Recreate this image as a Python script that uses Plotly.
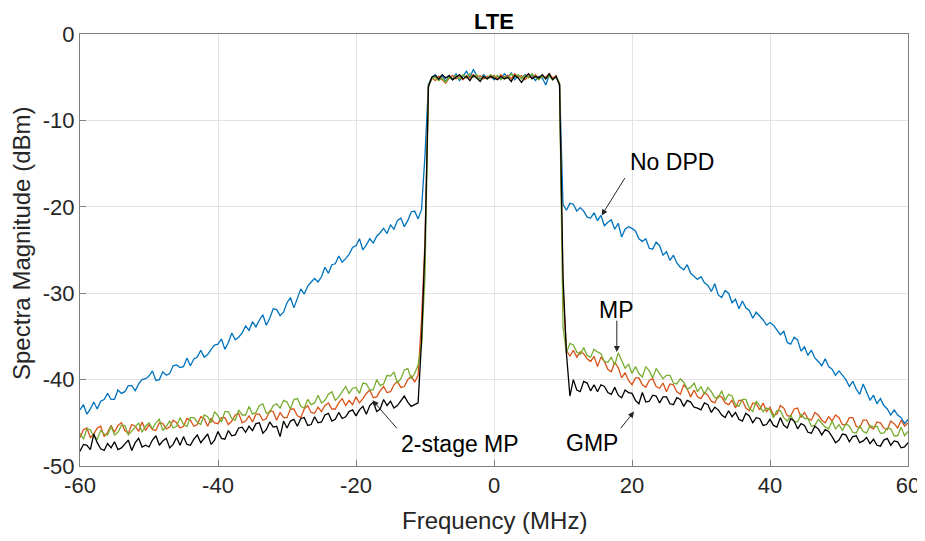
import numpy as np
import plotly.graph_objects as go

# Frequency sample grid (MHz), 0.5 MHz spacing
FREQ_MHZ = np.round(np.arange(-60.0, 60.25, 0.5), 2)

# No DPD (dBm)
NO_DPD = [
    -43.5, -42.9, -44.0, -43.4, -42.6, -43.4, -42.5, -42.3, -41.6, -42.3,
    -42.3, -41.2, -41.6, -41.4, -40.7, -40.7, -41.3, -40.5, -40.0, -39.9,
    -39.6, -39.0, -40.1, -40.0, -39.1, -39.5, -39.3, -38.4, -38.3, -38.6,
    -38.5, -37.5, -38.4, -37.6, -37.4, -36.6, -37.4, -37.1, -36.5, -36.0,
    -35.9, -35.3, -36.5, -35.7, -34.6, -35.4, -35.1, -34.6, -33.8, -34.3,
    -33.3, -33.9, -33.1, -32.5, -33.7, -32.9, -31.8, -31.9, -32.6, -32.2,
    -31.1, -30.5, -31.7, -30.6, -29.5, -30.1, -29.2, -28.7, -28.3, -28.7,
    -28.1, -27.0, -27.7, -26.7, -26.6, -25.7, -26.4, -26.0, -25.5, -24.7,
    -24.5, -23.7, -25.0, -24.4, -23.7, -24.2, -23.4, -23.0, -22.5, -23.1,
    -22.1, -22.6, -21.6, -21.3, -22.3, -21.6, -20.6, -20.5, -21.4, -20.3,
    -14.0, -5.8, -5.0, -4.7, -5.3, -4.8, -5.5, -4.9, -5.2, -4.6,
    -5.4, -4.9, -4.3, -5.0, -4.1, -4.8, -5.2, -4.7, -5.1, -4.8,
    -5.3, -4.9, -5.2, -4.6, -5.0, -4.5, -5.3, -4.8, -5.1, -4.7,
    -5.0, -4.8, -5.4, -4.9, -5.1, -5.9, -4.8, -5.2, -5.0, -5.8,
    -19.7, -20.4, -19.6, -19.7, -20.5, -20.1, -20.5, -21.2, -21.3, -20.7,
    -21.6, -21.0, -22.2, -21.8, -21.5, -22.6, -21.9, -23.5, -22.6, -22.3,
    -22.5, -22.8, -23.7, -24.0, -23.7, -24.8, -24.9, -24.1, -24.5, -25.6,
    -25.2, -26.2, -25.6, -26.5, -27.0, -27.3, -26.7, -27.7, -28.1, -28.4,
    -28.1, -28.8, -29.1, -29.8, -28.9, -30.2, -30.5, -29.7, -30.0, -31.1,
    -30.7, -31.8, -30.9, -31.7, -32.0, -32.9, -32.2, -32.6, -33.1, -33.7,
    -33.4, -33.7, -34.3, -34.8, -34.4, -35.7, -35.9, -35.1, -35.4, -36.7,
    -36.2, -37.2, -36.6, -37.5, -37.9, -38.4, -37.6, -38.5, -38.8, -39.5,
    -39.0, -39.5, -40.0, -40.8, -40.2, -41.1, -41.7, -40.5, -41.4, -42.4,
    -41.8, -42.8, -42.2, -43.0, -43.4, -44.1, -43.5, -44.1, -44.4, -45.1,
    -44.6,
]

# 2-stage MP (dBm)
TWO_STAGE_MP = [
    -46.7, -45.8, -45.6, -46.7, -46.3, -45.6, -45.4, -46.6, -46.1, -45.3,
    -46.1, -45.3, -45.0, -45.9, -46.2, -45.2, -45.4, -46.0, -44.9, -45.9,
    -45.2, -45.8, -45.9, -45.0, -45.1, -45.7, -45.5, -44.7, -45.0, -45.6,
    -45.4, -44.5, -44.7, -45.4, -45.2, -44.3, -44.5, -45.4, -44.5, -45.0,
    -45.1, -44.4, -44.4, -45.2, -44.8, -44.1, -43.9, -45.0, -44.8, -44.2,
    -44.9, -44.0, -44.0, -44.7, -44.5, -43.6, -43.7, -44.7, -43.8, -44.4,
    -44.4, -43.4, -43.4, -44.2, -44.4, -43.4, -43.0, -43.8, -43.9, -43.2,
    -43.7, -43.0, -42.7, -43.4, -43.4, -42.7, -42.2, -43.0, -42.4, -42.9,
    -42.0, -42.7, -42.2, -41.6, -41.2, -42.1, -42.0, -41.3, -40.8, -41.5,
    -41.4, -40.6, -40.2, -40.9, -40.8, -40.0, -39.6, -40.3, -39.5, -33.0,
    -24.0, -6.0, -5.1, -5.4, -4.9, -5.3, -5.7, -5.1, -4.8, -5.2,
    -4.9, -5.3, -4.8, -5.1, -4.7, -5.0, -4.8, -5.2, -4.9, -5.1,
    -4.8, -5.2, -4.7, -5.1, -4.8, -5.2, -4.6, -5.0, -4.8, -5.3,
    -4.9, -5.1, -4.7, -5.2, -4.9, -5.0, -4.6, -5.1, -4.8, -5.8,
    -29.6, -36.6, -37.3, -36.6, -37.4, -36.8, -37.0, -37.6, -37.9, -37.3,
    -38.5, -37.4, -37.9, -38.8, -39.1, -38.0, -38.6, -39.8, -39.2, -40.1,
    -40.6, -39.8, -39.8, -40.6, -40.9, -40.1, -39.9, -40.8, -41.0, -40.4,
    -41.4, -40.5, -40.6, -41.4, -41.7, -40.6, -41.1, -42.0, -41.2, -42.0,
    -42.2, -41.5, -41.8, -42.5, -42.7, -41.9, -42.0, -42.7, -42.9, -42.4,
    -43.3, -42.4, -42.4, -43.3, -43.6, -42.7, -42.8, -43.5, -42.7, -43.7,
    -43.2, -44.1, -44.0, -43.0, -43.3, -44.2, -44.2, -43.4, -43.3, -44.4,
    -43.8, -44.5, -44.7, -43.8, -44.1, -44.7, -45.0, -44.3, -44.8, -44.1,
    -44.4, -45.2, -45.2, -44.4, -44.4, -45.4, -45.6, -44.7, -44.7, -45.5,
    -45.7, -44.9, -45.0, -45.6, -45.8, -44.8, -45.1, -45.6, -44.7, -45.4,
    -45.0,
]

# MP (dBm)
MP = [
    -46.2, -46.9, -45.7, -45.8, -46.6, -46.9, -45.9, -46.3, -46.4, -45.4,
    -46.4, -46.1, -45.3, -45.3, -46.4, -46.0, -45.5, -45.0, -46.1, -45.4,
    -45.0, -45.7, -45.0, -44.6, -45.9, -45.4, -44.8, -45.6, -45.4, -44.4,
    -45.2, -45.4, -44.4, -44.4, -44.9, -45.2, -44.1, -44.3, -45.0, -43.7,
    -44.2, -44.9, -43.7, -43.7, -44.5, -44.7, -43.5, -44.1, -44.1, -43.1,
    -44.0, -43.8, -43.0, -42.8, -43.9, -43.8, -43.0, -42.8, -43.3, -42.4,
    -42.6, -43.4, -42.3, -42.2, -43.1, -43.3, -42.3, -42.9, -42.7, -41.8,
    -42.7, -42.4, -41.7, -41.4, -42.4, -42.0, -41.4, -40.8, -41.6, -41.0,
    -40.9, -41.6, -40.4, -40.5, -41.2, -41.2, -40.0, -40.7, -40.5, -39.5,
    -39.6, -39.1, -40.4, -39.9, -38.9, -38.7, -39.9, -39.3, -38.3, -36.0,
    -28.0, -5.9, -5.2, -5.0, -5.4, -5.1, -5.6, -5.0, -5.3, -4.8,
    -5.2, -4.7, -5.1, -4.6, -5.0, -4.7, -5.3, -4.9, -5.2, -4.7,
    -5.0, -4.8, -5.3, -4.9, -5.1, -4.6, -5.0, -4.7, -5.2, -4.8,
    -5.1, -4.6, -5.0, -5.3, -4.8, -5.2, -4.9, -5.3, -4.9, -5.7,
    -33.9, -36.9, -35.8, -36.0, -36.8, -37.1, -36.3, -37.2, -37.4, -36.5,
    -36.8, -37.0, -37.9, -38.0, -37.4, -38.3, -36.9, -37.8, -38.7, -38.2,
    -39.3, -38.5, -39.3, -39.7, -38.5, -39.0, -39.8, -38.7, -39.3, -39.9,
    -39.5, -39.5, -40.4, -40.5, -39.9, -40.3, -41.1, -40.9, -40.4, -41.4,
    -40.8, -41.7, -40.9, -41.4, -42.1, -42.1, -41.3, -42.4, -41.7, -41.9,
    -42.9, -43.1, -42.3, -42.3, -43.3, -43.7, -42.5, -43.0, -43.7, -43.3,
    -43.5, -44.4, -43.6, -43.6, -44.4, -44.8, -44.1, -44.9, -44.9, -44.0,
    -44.5, -44.5, -45.4, -45.3, -44.6, -45.0, -45.5, -45.7, -44.8, -45.7,
    -45.2, -45.9, -45.1, -45.4, -46.1, -46.2, -45.3, -46.0, -46.2, -45.3,
    -45.5, -45.4, -46.2, -46.2, -45.6, -45.7, -46.5, -46.5, -45.5, -46.5,
    -46.0,
]

# GMP (dBm)
GMP = [
    -48.3, -47.5, -47.6, -48.1, -46.3, -47.3, -48.0, -48.2, -47.4, -47.9,
    -47.2, -48.1, -47.9, -47.4, -47.0, -48.2, -47.3, -46.8, -47.8, -47.6,
    -47.8, -47.0, -46.5, -47.6, -47.1, -46.8, -47.9, -47.5, -46.7, -47.6,
    -46.6, -47.5, -47.6, -46.9, -46.4, -47.3, -46.8, -46.3, -47.5, -47.0,
    -46.0, -46.8, -46.9, -45.9, -46.5, -46.4, -45.6, -45.5, -46.1, -45.4,
    -45.9, -45.1, -45.0, -46.2, -45.8, -44.9, -45.5, -45.4, -46.6, -44.8,
    -45.6, -44.8, -44.6, -45.4, -44.5, -44.4, -45.3, -45.2, -44.3, -45.0,
    -44.9, -44.1, -43.9, -44.8, -44.6, -43.8, -44.5, -44.3, -43.7, -43.5,
    -44.2, -43.5, -43.1, -44.0, -43.0, -42.6, -43.7, -43.4, -42.3, -43.0,
    -42.5, -43.3, -43.0, -42.4, -41.9, -42.6, -43.1, -42.9, -42.7, -35.5,
    -24.5, -6.1, -5.0, -4.8, -5.2, -4.7, -5.1, -4.8, -5.3, -5.0,
    -4.7, -5.2, -4.9, -5.4, -4.8, -5.1, -5.5, -4.9, -5.2, -4.9,
    -5.1, -5.3, -4.9, -5.2, -5.0, -5.5, -4.8, -5.1, -5.6, -5.0,
    -4.6, -5.2, -4.9, -5.1, -4.7, -5.2, -4.6, -5.3, -4.9, -5.9,
    -28.0, -37.0, -41.9, -40.0, -41.2, -41.4, -40.2, -40.4, -41.3, -40.6,
    -41.4, -40.6, -40.8, -41.5, -41.7, -40.9, -41.8, -42.1, -41.2, -41.5,
    -41.6, -42.4, -42.8, -41.5, -42.6, -42.5, -41.8, -41.9, -42.7, -42.0,
    -42.0, -42.8, -42.9, -42.1, -42.3, -43.1, -42.4, -42.6, -43.2, -43.3,
    -43.5, -42.7, -42.9, -43.8, -43.2, -43.5, -44.1, -44.4, -43.6, -44.3,
    -43.8, -44.6, -44.8, -43.9, -44.2, -45.0, -44.4, -44.5, -45.3, -45.2,
    -44.6, -45.3, -45.5, -44.4, -45.3, -45.6, -44.5, -44.8, -45.7, -45.1,
    -45.3, -46.1, -46.2, -45.4, -45.7, -46.4, -45.8, -46.0, -46.6, -47.3,
    -47.0, -46.3, -46.4, -47.2, -46.6, -46.5, -47.3, -47.1, -46.7, -47.4,
    -46.9, -47.6, -47.7, -47.0, -46.8, -47.6, -47.1, -47.2, -47.9, -47.8,
    -47.3,
]

for s in (NO_DPD, TWO_STAGE_MP, MP, GMP):
    assert len(s) == len(FREQ_MHZ), len(s)

X_TICKS = [-60, -40, -20, 0, 20, 40, 60]
Y_TICKS = [-50, -40, -30, -20, -10, 0]

SERIES = [
    ("No DPD", NO_DPD, "#0072BD"),
    ("2-stage MP", TWO_STAGE_MP, "#D95319"),
    ("MP", MP, "#77AC30"),
    ("GMP", GMP, "#000000"),
]

FONT = "Liberation Sans, Arial, Helvetica, sans-serif"

fig = go.Figure()
for name, vals, color in SERIES:
    fig.add_trace(go.Scatter(x=FREQ_MHZ, y=vals, mode="lines", name=name,
                             line=dict(color=color, width=1.3)))

# label text and arrows: (text, text_x, text_y, tail_x, tail_y, head_x, head_y)
LABELS = [
    ("No DPD", 25.8, -14.8, 19.1, -16.5, 15.6, -21.0),
    ("MP", 17.8, -31.9, 17.8, -33.0, 17.8, -36.8),
    ("2-stage MP", -4.9, -47.5, -13.9, -45.8, -17.6, -42.4),
    ("GMP", 14.2, -47.3, 18.2, -45.8, 20.3, -43.7),
]
for text, tx, ty, ax_, ay_, hx, hy in LABELS:
    fig.add_annotation(x=tx, y=ty, xref="x", yref="y", text=text, showarrow=False,
                       font=dict(family=FONT, size=23, color="#000000"))
    fig.add_annotation(x=hx, y=hy, ax=ax_, ay=ay_, xref="x", yref="y", axref="x", ayref="y",
                       text="", showarrow=True, arrowhead=2, arrowsize=1.2, arrowwidth=1,
                       arrowcolor="#262626")

# title and axis titles
fig.add_annotation(x=0.5, y=1.0, xref="paper", yref="paper", text="<b>LTE</b>",
                   showarrow=False, xanchor="center", yanchor="bottom", yshift=-2,
                   font=dict(family=FONT, size=22, color="#000000"))
fig.add_annotation(x=0.5, y=-0.127, xref="paper", yref="paper", text="Frequency (MHz)",
                   showarrow=False, xanchor="center", yanchor="middle",
                   font=dict(family=FONT, size=24, color="#262626"))
fig.add_annotation(x=-0.070, y=0.514, xref="paper", yref="paper",
                   text="Spectra Magnitude (dBm)", textangle=-90,
                   showarrow=False, xanchor="center", yanchor="middle",
                   font=dict(family=FONT, size=24, color="#262626"))

axis_common = dict(
    showgrid=True, gridcolor="#e3e3e3", gridwidth=1,
    showline=True, linecolor="#7f7f7f", linewidth=1, mirror=True,
    ticks="inside", ticklen=6, tickcolor="#7f7f7f",
    zeroline=False, automargin=False,
    tickfont=dict(family=FONT, size=22, color="#262626"),
)

# The page body has an 8 px margin, so the figure is 8 px smaller than the window
fig.update_layout(
    width=917, height=533,
    paper_bgcolor="white", plot_bgcolor="white",
    margin=dict(l=72, r=17, t=26, b=75),
    showlegend=False,
    xaxis=dict(range=[-60, 60], tickvals=X_TICKS, ticktext=[str(v) for v in X_TICKS],
               **axis_common),
    yaxis=dict(range=[-50, 0], tickvals=Y_TICKS, ticktext=[str(v) for v in Y_TICKS],
               **axis_common),
)

fig.write_html("out.html")
